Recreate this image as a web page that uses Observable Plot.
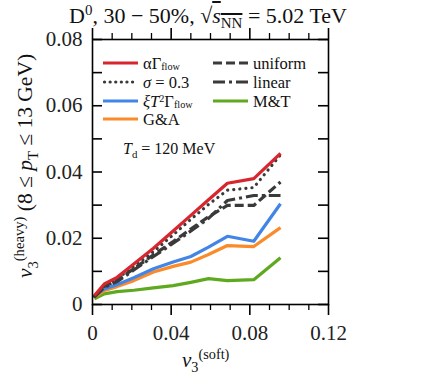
<!DOCTYPE html>
<html>
<head>
<meta charset="utf-8">
<script src="https://cdn.jsdelivr.net/npm/d3@7"></script>
<script src="https://cdn.jsdelivr.net/npm/@observablehq/plot@0.6"></script>
<style>
  html, body { margin: 0; padding: 0; background: #fff; }
  #wrap { position: relative; width: 431px; height: 386px; font-family: "Liberation Serif", serif; color: #111; }
  #wrap svg { position: absolute; left: 0; top: 0; }
  .t { position: absolute; white-space: nowrap; line-height: 1; }
  sub, sup { font-size: 0.68em; line-height: 0; }
  .leg { position: absolute; white-space: nowrap; line-height: 1; }
  .leg sub { font-size: 0.62em; vertical-align: -0.12em; }
  .leg sup { font-size: 0.62em; vertical-align: 0.5em; }
</style>
</head>
<body>
<div id="wrap"></div>
<script>
// ---- data ----
const xSoft      = [0.001, 0.006, 0.0125, 0.021, 0.031, 0.041, 0.050, 0.059, 0.0686, 0.082, 0.0956];
const alphaGamma = [0.0027, 0.0062, 0.0082, 0.0122, 0.0170, 0.0222, 0.0269, 0.0316, 0.0366, 0.0380, 0.0456];
const sigma03    = [0.0025, 0.0058, 0.0078, 0.0114, 0.0160, 0.0210, 0.0257, 0.0302, 0.0345, 0.0353, 0.0452];
const uniform    = [0.0024, 0.0055, 0.0073, 0.0108, 0.0150, 0.0190, 0.0228, 0.0265, 0.0299, 0.0299, 0.0370];
const linear     = [0.0022, 0.0052, 0.0069, 0.0104, 0.0145, 0.0185, 0.0222, 0.0260, 0.0314, 0.0329, 0.0329];
const xiT2Gamma  = [0.0027, 0.0047, 0.0060, 0.0081, 0.0108, 0.0128, 0.0145, 0.0173, 0.0206, 0.0191, 0.0304];
const GandA      = [0.0022, 0.0042, 0.0054, 0.0072, 0.0098, 0.0115, 0.0128, 0.0151, 0.0178, 0.0175, 0.0232];
const MandT      = [0.0017, 0.0032, 0.0039, 0.0043, 0.0050, 0.0057, 0.0067, 0.0078, 0.0072, 0.0075, 0.0141];

const xMajor = [0, 0.04, 0.08, 0.12];
const xMinor = [0.01, 0.02, 0.03, 0.05, 0.06, 0.07, 0.09, 0.10, 0.11];
const yTicks = [0, 0.01, 0.02, 0.03, 0.04, 0.05, 0.06, 0.07, 0.08];
const yLabels = [0, 0.02, 0.04, 0.06, 0.08];

const series = [
  {key: "M&T",     values: MandT,      stroke: "#5ea91d", dash: null},
  {key: "G&A",     values: GandA,      stroke: "#f98b2b", dash: null},
  {key: "xi",      values: xiT2Gamma,  stroke: "#4285e6", dash: null},
  {key: "linear",  values: linear,     stroke: "#3a3a3a", dash: "12,4,3,4"},
  {key: "uniform", values: uniform,    stroke: "#3a3a3a", dash: "9,4"},
  {key: "sigma",   values: sigma03,    stroke: "#3a3a3a", dash: "0.1,6"},
  {key: "alpha",   values: alphaGamma, stroke: "#d7262e", dash: null}
];

const W = 431, H = 386;
const mL = 92, mR = 103, mT = 39, mB = 82;
const fw = W - mL - mR, fh = H - mT - mB;
const FONT = "Liberation Serif, serif";

const fmt = d => d === 0 ? "0" : d.toFixed(2);

const marks = [];
for (const s of series) {
  const rows = s.values.map((v, i) => ({x: xSoft[i], y: v}));
  marks.push(Plot.line(rows, {x: "x", y: "y", stroke: s.stroke, strokeWidth: 3.2,
    strokeDasharray: s.dash, strokeLinecap: s.key === "sigma" ? "round" : "butt", strokeLinejoin: "round"}));
}
marks.push(
  Plot.frame({stroke: "#000", strokeWidth: 1.6}),
  // x ticks: outward, bottom and top
  Plot.tickX(xMajor, {x: d => d, stroke: "#000", strokeWidth: 1.6, insetTop: fh, insetBottom: -11}),
  Plot.tickX(xMinor, {x: d => d, stroke: "#000", strokeWidth: 1.3, insetTop: fh, insetBottom: -6}),
  Plot.tickX(xMajor, {x: d => d, stroke: "#000", strokeWidth: 1.6, insetTop: -11, insetBottom: fh}),
  Plot.tickX(xMinor, {x: d => d, stroke: "#000", strokeWidth: 1.3, insetTop: -6, insetBottom: fh}),
  // y ticks: inward, left and right
  Plot.tickY(yTicks, {y: d => d, stroke: "#000", strokeWidth: 1.6, insetRight: fw - 10}),
  Plot.tickY(yTicks, {y: d => d, stroke: "#000", strokeWidth: 1.6, insetLeft: fw - 10}),
  Plot.axisX(xMajor, {anchor: "bottom", tickSize: 0, tickPadding: 21, tickFormat: fmt, label: null,
    fill: "#222", fontFamily: FONT, fontSize: 21}),
  Plot.axisY(yLabels, {anchor: "left", tickSize: 0, tickPadding: 10, tickFormat: fmt, label: null,
    fill: "#222", fontFamily: FONT, fontSize: 21})
);

const chart = Plot.plot({
  width: W, height: H,
  marginLeft: mL, marginRight: mR, marginTop: mT, marginBottom: mB,
  x: {domain: [0, 0.12]},
  y: {domain: [0, 0.08]},
  style: {fontFamily: FONT, fontSize: "21px", background: "#fff", overflow: "visible"},
  marks
});
const wrap = document.getElementById("wrap");
wrap.appendChild(chart);

// ---- text overlays ----
function addText(html, style, cls = "t") {
  const d = document.createElement("div");
  d.className = cls;
  d.innerHTML = html;
  Object.assign(d.style, style);
  wrap.appendChild(d);
  return d;
}
// title
addText('D<sup>0</sup>, 30 − 50%, √<span style="text-decoration:overline"><i>s</i><sub>NN</sub></span> = 5.02 TeV',
  {left: "0px", width: "416px", textAlign: "center", top: "5px", fontSize: "22px"});
// x label
addText('<i>v</i><sub>3</sub><sup>(soft)</sup>', {left: "182px", top: "350px", fontSize: "21px"});
// y label (rotated)
addText('<i>v</i><sub>3</sub><sup>(heavy)</sup> (8 ≤ <i>p</i><sub>T</sub> ≤ 13 GeV)',
  {left: "26px", top: "166px", fontSize: "21.5px", transform: "translate(-50%, -50%) rotate(-90deg)"});

// legend
const legend = [
  {label: 'αΓ<sub>flow</sub>', stroke: "#d7262e", dash: null, col: 0, row: 0},
  {label: '<i>σ</i> = 0.3', stroke: "#3a3a3a", dash: "0.1,5.5", col: 0, row: 1, round: true},
  {label: '<i>ξT</i><sup>2</sup>Γ<sub>flow</sub>', stroke: "#4285e6", dash: null, col: 0, row: 2},
  {label: 'G&amp;A', stroke: "#f98b2b", dash: null, col: 0, row: 3},
  {label: 'uniform', stroke: "#3a3a3a", dash: "9,4", col: 1, row: 0},
  {label: 'linear', stroke: "#3a3a3a", dash: "12,4,3,4", col: 1, row: 1},
  {label: 'M&amp;T', stroke: "#5ea91d", dash: null, col: 1, row: 2}
];
const colX = [103, 213], rowY = [63, 82, 100.5, 119];
for (const e of legend) {
  const x0 = colX[e.col], y0 = rowY[e.row];
  const d = document.createElement("div");
  d.className = "leg";
  d.style.left = x0 + "px";
  d.style.top = (y0 - 10) + "px";
  d.innerHTML = `<svg width="36" height="20" style="position:absolute;left:0;top:0;overflow:visible">
    <line x1="${e.round ? 1.5 : 0}" y1="10" x2="35" y2="10" stroke="${e.stroke}" stroke-width="3.2"
      ${e.dash ? `stroke-dasharray="${e.dash}"` : ""} stroke-linecap="${e.round ? "round" : "butt"}"/></svg>
    <span style="position:absolute;left:40px;top:3px;font-size:16.5px">${e.label}</span>`;
  wrap.appendChild(d);
}
addText('<i>T</i><sub>d</sub> = 120 MeV', {left: "123px", top: "141px", fontSize: "16px"});
</script>
</body>
</html>
